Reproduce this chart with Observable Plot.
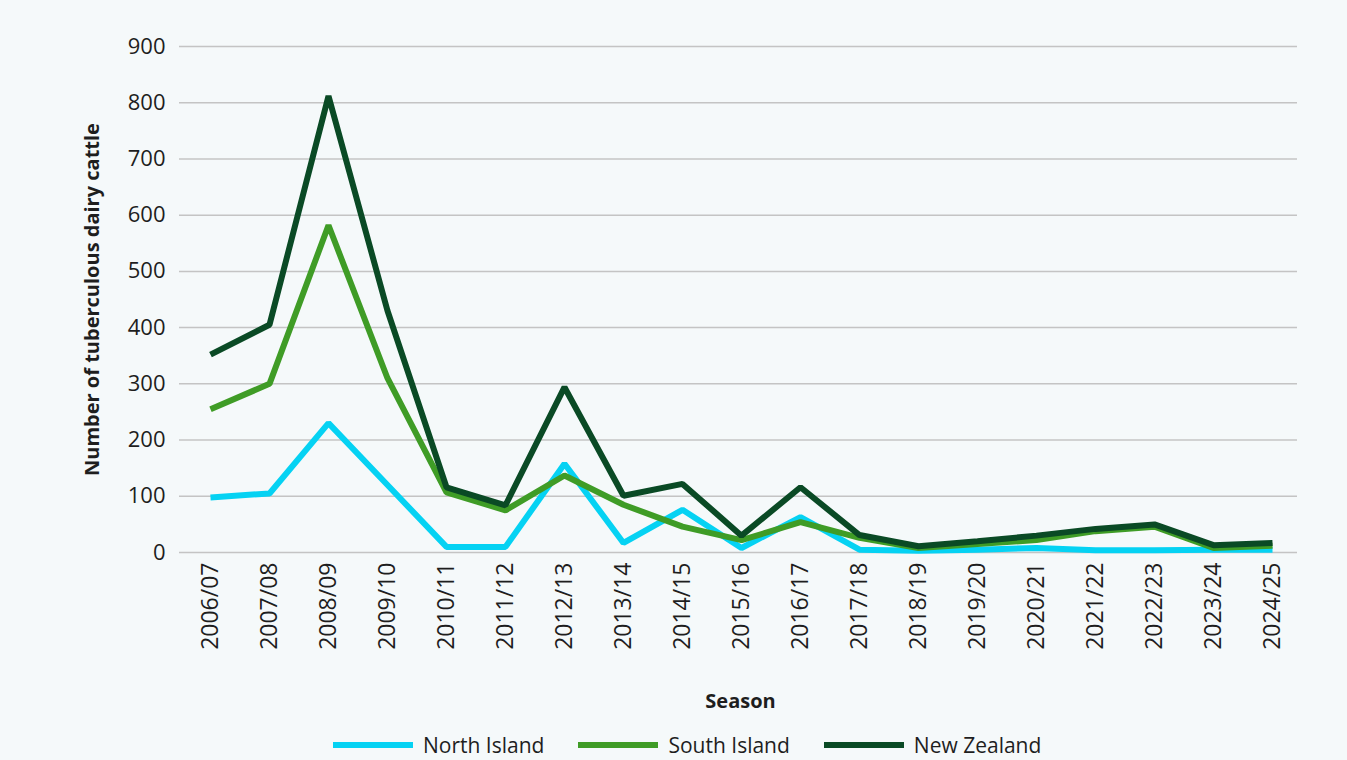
<!DOCTYPE html>
<html>
<head>
<meta charset="utf-8">
<script src="https://cdn.jsdelivr.net/npm/d3@7"></script>
<script src="https://cdn.jsdelivr.net/npm/@observablehq/plot@0.6"></script>
<style>
  html, body { margin: 0; padding: 0; background: #f5f9fa; }
  body { position: relative; width: 1347px; height: 760px; overflow: hidden; font-family: "Open Sans", sans-serif; color: #1e1e1e; }
  #legend { position: absolute; left: 333px; top: 735px; display: flex; align-items: center; height: 20px; line-height: 20px; font-size: 21px; }
  .item { display: flex; align-items: center; margin-right: 34px; }
  .sw { width: 80px; height: 6px; margin-right: 10px; }
</style>
</head>
<body>
<div id="chart"></div>
<div id="legend"></div>
<script>
const seasons = ["2006/07","2007/08","2008/09","2009/10","2010/11","2011/12","2012/13","2013/14","2014/15","2015/16","2016/17","2017/18","2018/19","2019/20","2020/21","2021/22","2022/23","2023/24","2024/25"];
const northIsland = [98, 105, 230, 120, 10, 10, 158, 17, 76, 8, 63, 5, 3, 5, 8, 4, 4, 5, 5];
const southIsland = [255, 300, 582, 310, 107, 75, 137, 85, 46, 22, 54, 26, 8, 15, 22, 38, 46, 8, 12];
const newZealand = [352, 405, 812, 430, 116, 84, 294, 101, 122, 30, 116, 31, 11, 20, 30, 42, 50, 13, 17];
const yTicks = [0, 100, 200, 300, 400, 500, 600, 700, 800, 900];
const seriesNames = ["North Island", "South Island", "New Zealand"];
const seriesColors = ["#05d2f3", "#3f9c26", "#0a4a25"];

const seriesValues = [northIsland, southIsland, newZealand];
const rows = (vals) => seasons.map((s, i) => ({season: s, value: vals[i]}));

const chart = Plot.plot({
  width: 1347,
  height: 725,
  marginTop: 46,
  marginBottom: 173,
  marginLeft: 179,
  marginRight: 50,
  style: {background: "transparent", fontFamily: "Open Sans, sans-serif", color: "#1e1e1e"},
  x: {type: "point", domain: seasons, range: [208, 1273], padding: 0},
  y: {domain: [0, 900]},
  marks: [
    Plot.ruleY(yTicks, {stroke: "#c4c4c4", strokeWidth: 1.5}),
    Plot.axisY({ticks: yTicks, tickSize: 0, tickPadding: 14, fontSize: 22, label: null}),
    Plot.axisX({tickSize: 0, tickRotate: -90, tickPadding: 10, fontSize: 23, label: null}),
    ...seriesValues.map((vals, k) => Plot.line(rows(vals), {
      x: "season", y: "value", stroke: seriesColors[k], strokeWidth: 6,
      strokeLinejoin: "miter", strokeLinecap: "butt"
    })),
    Plot.text(["Number of tuberculous dairy cattle"], {frameAnchor: "left", textAnchor: "middle", rotate: -90, dx: -87, fontSize: 20, fontWeight: "bold", fill: "#1e1e1e"}),
    Plot.text(["Season"], {frameAnchor: "bottom", dx: 2, dy: 155, fontSize: 20, fontWeight: "bold", fill: "#1e1e1e"})
  ]
});
document.getElementById("chart").appendChild(chart);

const legend = document.getElementById("legend");
seriesNames.forEach((name, k) => {
  const item = document.createElement("div");
  item.className = "item";
  const sw = document.createElement("div");
  sw.className = "sw";
  sw.style.background = seriesColors[k];
  const label = document.createElement("span");
  label.textContent = name;
  item.appendChild(sw);
  item.appendChild(label);
  legend.appendChild(item);
});
</script>
</body>
</html>
